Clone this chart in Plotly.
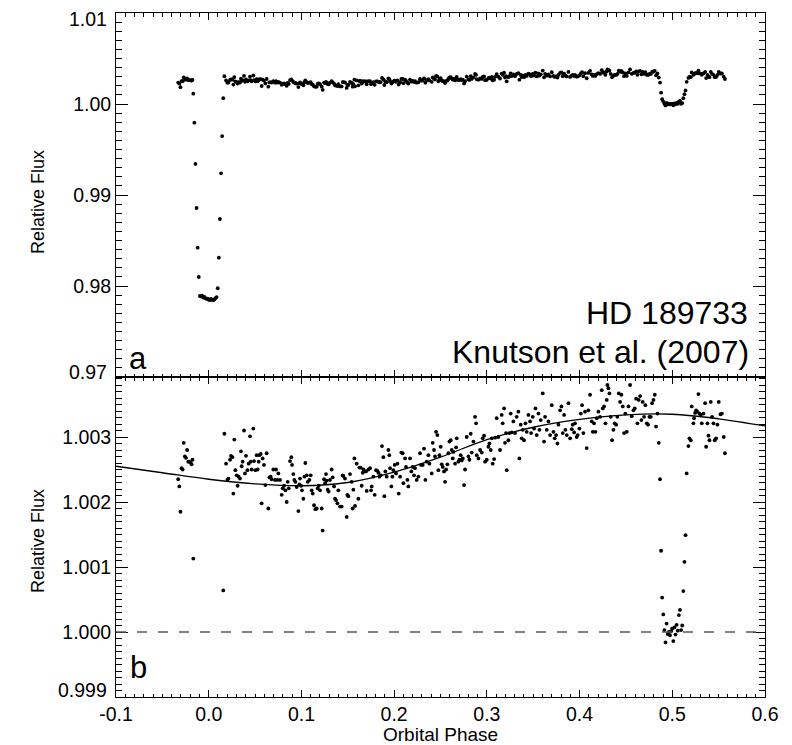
import plotly.graph_objects as go

# ---------------- data (orbital phase, relative flux) ----------------
pre_transit = [(-0.0329, 1.00235), (-0.0317, 1.00224), (-0.0305, 1.00185), (-0.0293, 1.00252),
               (-0.0281, 1.00250), (-0.0269, 1.00291), (-0.0257, 1.00270), (-0.0245, 1.00268),
               (-0.0233, 1.00280), (-0.0221, 1.00262), (-0.0209, 1.00262), (-0.0197, 1.00261),
               (-0.0185, 1.00258), (-0.0175, 1.00265)]

transit = [(-0.0166, 1.00113), (-0.0155, 0.99795), (-0.0143, 0.99341), (-0.0131, 0.98857),
           (-0.0119, 0.98421), (-0.0107, 0.98099), (-0.0095, 0.97890), (-0.0083, 0.97885),
           (-0.0071, 0.97895), (-0.0059, 0.97872), (-0.0047, 0.97880), (-0.0035, 0.97866),
           (-0.0023, 0.97858), (-0.0011, 0.97862), (0.0001, 0.97850), (0.0013, 0.97845),
           (0.0025, 0.97858), (0.0037, 0.97848), (0.0049, 0.97843), (0.0061, 0.97852),
           (0.0073, 0.97866), (0.0085, 0.97878), (0.0097, 0.97975), (0.0109, 0.98311),
           (0.0121, 0.98736), (0.0133, 0.99238), (0.0145, 0.99648), (0.0157, 1.00064)]

orbit_early = [
    (0.0169, 1.00305), (0.0187, 1.00259), (0.0201, 1.00234), (0.0212, 1.00236), (0.0230, 1.00265),
    (0.0240, 1.00271), (0.0255, 1.00269), (0.0266, 1.00213), (0.0276, 1.00296), (0.0287, 1.00249),
    (0.0302, 1.00241), (0.0312, 1.00225), (0.0323, 1.00239), (0.0337, 1.00236), (0.0348, 1.00278),
    (0.0355, 1.00255), (0.0366, 1.00262), (0.0381, 1.00310), (0.0391, 1.00244), (0.0402, 1.00271),
    (0.0417, 1.00249), (0.0431, 1.00259), (0.0445, 1.00301), (0.0453, 1.00262), (0.0463, 1.00250),
    (0.0481, 1.00313), (0.0489, 1.00263), (0.0503, 1.00249), (0.0517, 1.00272), (0.0528, 1.00250),
    (0.0539, 1.00262), (0.0546, 1.00272), (0.0561, 1.00274), (0.0571, 1.00198), (0.0582, 1.00267),
    (0.0596, 1.00257), (0.0611, 1.00226), (0.0625, 1.00275), (0.0643, 1.00190), (0.0654, 1.00238),
    (0.0668, 1.00239), (0.0679, 1.00235), (0.0697, 1.00250), (0.0715, 1.00234), (0.0726, 1.00250),
    (0.0740, 1.00234), (0.0751, 1.00244), (0.0769, 1.00234), (0.0787, 1.00211), (0.0798, 1.00221),
    (0.0812, 1.00225), (0.0827, 1.00218), (0.0841, 1.00200), (0.0852, 1.00231), (0.0863, 1.00221),
    (0.0877, 1.00263), (0.0891, 1.00269), (0.0899, 1.00257), (0.0913, 1.00243), (0.0924, 1.00234),
    (0.0935, 1.00231), (0.0949, 1.00223), (0.0967, 1.00186), (0.0978, 1.00227), (0.0985, 1.00236),
    (0.0996, 1.00225), (0.1006, 1.00218), (0.1021, 1.00205), (0.1032, 1.00239), (0.1042, 1.00260),
    (0.1057, 1.00241), (0.1068, 1.00231), (0.1086, 1.00234), (0.1100, 1.00241), (0.1111, 1.00218),
    (0.1122, 1.00213), (0.1136, 1.00195), (0.1150, 1.00189), (0.1165, 1.00190), (0.1175, 1.00221),
    (0.1186, 1.00225), (0.1201, 1.00218), (0.1219, 1.00190), (0.1229, 1.00156), (0.1244, 1.00235),
    (0.1255, 1.00229), (0.1265, 1.00243), (0.1273, 1.00233), (0.1283, 1.00219), (0.1294, 1.00216),
    (0.1308, 1.00234), (0.1326, 1.00250), (0.1337, 1.00238), (0.1352, 1.00224), (0.1362, 1.00205),
    (0.1373, 1.00203), (0.1388, 1.00198), (0.1398, 1.00218), (0.1416, 1.00193), (0.1434, 1.00193),
    (0.1445, 1.00241), (0.1452, 1.00240), (0.1470, 1.00236), (0.1488, 1.00177), (0.1495, 1.00211),
    (0.1506, 1.00209), (0.1524, 1.00243), (0.1542, 1.00231), (0.1553, 1.00190), (0.1560, 1.00219),
    (0.1571, 1.00267), (0.1578, 1.00194), (0.1596, 1.00259), (0.1614, 1.00205), (0.1625, 1.00253),
    (0.1639, 1.00253), (0.1650, 1.00225), (0.1661, 1.00245), (0.1668, 1.00250), (0.1686, 1.00247),
    (0.1697, 1.00247), (0.1704, 1.00217), (0.1722, 1.00250), (0.1740, 1.00252), (0.1751, 1.00218),
    (0.1758, 1.00224), (0.1776, 1.00239), (0.1790, 1.00211), (0.1805, 1.00249), (0.1819, 1.00248),
    (0.1830, 1.00245), (0.1841, 1.00239), (0.1855, 1.00241), (0.1869, 1.00286), (0.1884, 1.00269),
    (0.1894, 1.00209), (0.1905, 1.00247), (0.1920, 1.00239), (0.1938, 1.00280), (0.1948, 1.00272),
    (0.1956, 1.00252), (0.1970, 1.00224), (0.1981, 1.00239), (0.1992, 1.00249), (0.2006, 1.00257),
    (0.2020, 1.00244), (0.2035, 1.00259), (0.2049, 1.00213), (0.2064, 1.00239), (0.2078, 1.00276),
    (0.2092, 1.00275), (0.2100, 1.00229), (0.2118, 1.00267), (0.2128, 1.00254), (0.2143, 1.00234),
    (0.2153, 1.00224), (0.2171, 1.00267), (0.2186, 1.00247), (0.2200, 1.00254), (0.2215, 1.00241),
    (0.2225, 1.00252), (0.2243, 1.00234), (0.2261, 1.00239), (0.2279, 1.00275), (0.2290, 1.00257),
    (0.2308, 1.00257), (0.2322, 1.00282), (0.2337, 1.00234), (0.2351, 1.00262), (0.2369, 1.00272),
    (0.2380, 1.00259)]

orbit_late = [
    (0.2405, 1.00244), (0.2416, 1.00291), (0.2430, 1.00280), (0.2441, 1.00270), (0.2452, 1.00308),
    (0.2466, 1.00303), (0.2477, 1.00249), (0.2488, 1.00272), (0.2502, 1.00285), (0.2513, 1.00258),
    (0.2524, 1.00254), (0.2538, 1.00247), (0.2549, 1.00231), (0.2560, 1.00250), (0.2574, 1.00258),
    (0.2585, 1.00275), (0.2596, 1.00293), (0.2610, 1.00295), (0.2621, 1.00280), (0.2632, 1.00267),
    (0.2639, 1.00277), (0.2657, 1.00259), (0.2668, 1.00284), (0.2675, 1.00298), (0.2693, 1.00262),
    (0.2704, 1.00265), (0.2718, 1.00272), (0.2729, 1.00264), (0.2740, 1.00267), (0.2754, 1.00226),
    (0.2765, 1.00250), (0.2783, 1.00300), (0.2801, 1.00270), (0.2812, 1.00265), (0.2826, 1.00305),
    (0.2837, 1.00276), (0.2855, 1.00293), (0.2873, 1.00331), (0.2884, 1.00321), (0.2891, 1.00272),
    (0.2909, 1.00267), (0.2927, 1.00280), (0.2945, 1.00276), (0.2955, 1.00298), (0.2970, 1.00302),
    (0.2981, 1.00262), (0.2999, 1.00265), (0.3017, 1.00285), (0.3027, 1.00290), (0.3042, 1.00280),
    (0.3053, 1.00298), (0.3063, 1.00259), (0.3078, 1.00266), (0.3089, 1.00299), (0.3106, 1.00329),
    (0.3124, 1.00300), (0.3142, 1.00280), (0.3160, 1.00334), (0.3171, 1.00321), (0.3186, 1.00344),
    (0.3196, 1.00291), (0.3207, 1.00306), (0.3214, 1.00249), (0.3232, 1.00295), (0.3243, 1.00306),
    (0.3257, 1.00336), (0.3268, 1.00307), (0.3286, 1.00324), (0.3304, 1.00306), (0.3322, 1.00331),
    (0.3340, 1.00339), (0.3351, 1.00267), (0.3365, 1.00319), (0.3376, 1.00298), (0.3387, 1.00311),
    (0.3401, 1.00295), (0.3416, 1.00321), (0.3430, 1.00308), (0.3448, 1.00334), (0.3466, 1.00324),
    (0.3477, 1.00306), (0.3495, 1.00331), (0.3509, 1.00313), (0.3524, 1.00344), (0.3538, 1.00303),
    (0.3556, 1.00336), (0.3567, 1.00311), (0.3581, 1.00326), (0.3603, 1.00367), (0.3617, 1.00293),
    (0.3628, 1.00331), (0.3646, 1.00311), (0.3664, 1.00324), (0.3682, 1.00303), (0.3700, 1.00349),
    (0.3718, 1.00308), (0.3732, 1.00298), (0.3747, 1.00303), (0.3761, 1.00290), (0.3772, 1.00319),
    (0.3790, 1.00341), (0.3804, 1.00347), (0.3818, 1.00306), (0.3833, 1.00334), (0.3847, 1.00311),
    (0.3862, 1.00303), (0.3880, 1.00352), (0.3898, 1.00298), (0.3916, 1.00312), (0.3926, 1.00319),
    (0.3941, 1.00307), (0.3951, 1.00321), (0.3969, 1.00300), (0.3980, 1.00303), (0.3998, 1.00313),
    (0.4013, 1.00336), (0.4027, 1.00349), (0.4041, 1.00306), (0.4059, 1.00339), (0.4077, 1.00283),
    (0.4095, 1.00341), (0.4113, 1.00365), (0.4131, 1.00324), (0.4142, 1.00308), (0.4156, 1.00321),
    (0.4171, 1.00308), (0.4185, 1.00329), (0.4203, 1.00339), (0.4221, 1.00331), (0.4239, 1.00372),
    (0.4250, 1.00344), (0.4264, 1.00347), (0.4279, 1.00321), (0.4293, 1.00357), (0.4300, 1.00380),
    (0.4311, 1.00375), (0.4322, 1.00367), (0.4336, 1.00331), (0.4351, 1.00295), (0.4365, 1.00311),
    (0.4379, 1.00321), (0.4394, 1.00319), (0.4408, 1.00331), (0.4423, 1.00367), (0.4437, 1.00354),
    (0.4451, 1.00365), (0.4466, 1.00347), (0.4480, 1.00306), (0.4494, 1.00336), (0.4509, 1.00308),
    (0.4527, 1.00347), (0.4545, 1.00380), (0.4563, 1.00332), (0.4581, 1.00341), (0.4595, 1.00344),
    (0.4610, 1.00359), (0.4624, 1.00321), (0.4638, 1.00357), (0.4653, 1.00363), (0.4667, 1.00326),
    (0.4681, 1.00354), (0.4696, 1.00331), (0.4710, 1.00349), (0.4725, 1.00321), (0.4739, 1.00319),
    (0.4753, 1.00331), (0.4768, 1.00331), (0.4782, 1.00352), (0.4797, 1.00357), (0.4811, 1.00365),
    (0.4825, 1.00316), (0.4840, 1.00336), (0.4854, 1.00291)]

eclipse = [(0.4868, 1.00235), (0.4879, 1.00125), (0.4891, 1.00053), (0.4903, 1.00027),
           (0.4915, 1.00003), (0.4927, 0.99984), (0.4939, 1.00013), (0.4951, 0.99997),
           (0.4963, 1.00000), (0.4975, 0.99995), (0.4987, 1.00001), (0.4999, 1.00005),
           (0.5011, 0.99986), (0.5023, 1.00007), (0.5035, 0.99996), (0.5047, 1.00011),
           (0.5059, 1.00002), (0.5071, 1.00026), (0.5083, 1.00034), (0.5095, 1.00003),
           (0.5107, 1.00010), (0.5119, 1.00063), (0.5131, 1.00108), (0.5143, 1.00149),
           (0.5155, 1.00244)]

post_eclipse = [(0.5174, 1.00286), (0.5185, 1.00298), (0.5199, 1.00295), (0.5210, 1.00347),
                (0.5228, 1.00321), (0.5235, 1.00329), (0.5246, 1.00337), (0.5257, 1.00341),
                (0.5271, 1.00339), (0.5282, 1.00366), (0.5293, 1.00336), (0.5307, 1.00334),
                (0.5318, 1.00321), (0.5336, 1.00336), (0.5354, 1.00352), (0.5365, 1.00285),
                (0.5379, 1.00321), (0.5390, 1.00302), (0.5401, 1.00295), (0.5415, 1.00354),
                (0.5429, 1.00331), (0.5444, 1.00321), (0.5458, 1.00295), (0.5473, 1.00298),
                (0.5487, 1.00319), (0.5501, 1.00354), (0.5520, 1.00335), (0.5535, 1.00336),
                (0.5555, 1.00300), (0.5568, 1.00275)]

# phase-curve model
curve_phase = [-0.10, -0.05, 0.00, 0.05, 0.10, 0.15, 0.20, 0.25, 0.30, 0.35, 0.40, 0.45, 0.50, 0.55, 0.60]
curve_flux = [1.00255, 1.00245, 1.00235, 1.00228, 1.00225, 1.00230, 1.00246, 1.00269,
              1.00296, 1.00315, 1.00327, 1.00334, 1.00335, 1.00328, 1.00317]

x_tickvals = [-0.1, 0.0, 0.1, 0.2, 0.3, 0.4, 0.5, 0.6]
x_ticktext = ["-0.1", "0.0", "0.1", "0.2", "0.3", "0.4", "0.5", "0.6"]
ytop_tickvals = [0.97, 0.98, 0.99, 1.00, 1.01]
ytop_ticktext = ["0.97", "0.98", "0.99", "1.00", "1.01"]
ybot_tickvals = [0.999, 1.000, 1.001, 1.002, 1.003]
ybot_ticktext = ["0.999", "1.000", "1.001", "1.002", "1.003"]

points = pre_transit + transit + orbit_early + orbit_late + eclipse + post_eclipse
phase = [p for p, f in points]
flux = [f for p, f in points]

# ---------------- figure ----------------
FONT = "Liberation Sans, Arial, Helvetica, sans-serif"
TICKSIZE = 19.5
W, H = 792, 745
ML, MR, MT, MB = 116, 27, 13, 48
split = 320 / 684.0


def py(px):
    return (H - MB - px) / (H - MT - MB)


def pxx(px):
    return (px - ML) / (W - ML - MR)


fig = go.Figure()
marker = dict(color="black", size=3.8, line=dict(width=0))
fig.add_trace(go.Scatter(x=phase, y=flux, mode="markers", marker=marker,
                         xaxis="x2", yaxis="y2", showlegend=False, hoverinfo="skip"))
fig.add_trace(go.Scatter(x=phase, y=flux, mode="markers", marker=marker,
                         xaxis="x", yaxis="y", showlegend=False, hoverinfo="skip"))
fig.add_trace(go.Scatter(x=curve_phase, y=curve_flux, mode="lines",
                         line=dict(color="black", width=1.3, shape="spline", smoothing=1.0),
                         xaxis="x", yaxis="y", showlegend=False, hoverinfo="skip"))


def xaxis_common(show_labels):
    return dict(range=[-0.1, 0.6], tickmode="array", tickvals=x_tickvals, ticktext=x_ticktext,
                showticklabels=show_labels, ticks="inside", ticklen=7, tickwidth=1,
                tickcolor="black", showline=True, linecolor="black", linewidth=1,
                mirror="allticks", showgrid=False, zeroline=False, automargin=False,
                tickfont=dict(family=FONT, size=TICKSIZE, color="black"),
                minor=dict(tickmode="linear", tick0=0, dtick=0.01, ticks="inside", ticklen=3.5,
                           tickwidth=1, tickcolor="black", showgrid=False))


def yaxis_common(rng, vals, text, minor_dtick, domain):
    return dict(range=rng, domain=domain, tickmode="array", tickvals=vals, ticktext=text,
                ticks="inside", ticklen=12, tickwidth=1, tickcolor="black",
                showline=True, linecolor="black", linewidth=1, mirror="allticks",
                showgrid=False, zeroline=False, automargin=False,
                tickfont=dict(family=FONT, size=TICKSIZE, color="black"),
                minor=dict(tickmode="linear", tick0=1.0, dtick=minor_dtick, ticks="inside",
                           ticklen=6, tickwidth=1, tickcolor="black", showgrid=False))


# edge labels are drawn nudged inward (as in the original), the others on their ticks
edge_top = {0: 372, 4: 19}      # index in ytop_ticktext -> label centre (px)
edge_bot = {0: 690}             # index in ybot_ticktext -> label centre (px)
ytop_text_axis = ["" if i in edge_top else t for i, t in enumerate(ytop_ticktext)]
ybot_text_axis = ["" if i in edge_bot else t for i, t in enumerate(ybot_ticktext)]

fig.update_layout(
    width=W, height=H, margin=dict(l=ML, r=MR, t=MT, b=MB, pad=0, autoexpand=False),
    paper_bgcolor="white", plot_bgcolor="white",
    font=dict(family=FONT, color="black"),
    xaxis=dict(**xaxis_common(True), anchor="y"),
    xaxis2=dict(**xaxis_common(False), anchor="y2", matches="x"),
    yaxis=dict(**yaxis_common([0.999, 1.003923], ybot_tickvals, ybot_text_axis, 0.0001, [0, split]),
               anchor="x"),
    yaxis2=dict(**yaxis_common([0.97, 1.01], ytop_tickvals, ytop_text_axis, 0.001, [split, 1]),
                anchor="x2"),
    showlegend=False,
)

# dashed reference line at flux = 1 in panel b
fig.add_shape(type="line", xref="x domain", yref="y", x0=0, x1=1, y0=1.0, y1=1.0,
              line=dict(color="#5a5a5a", width=1.5, dash="10px,11px"))

for i, yc in edge_top.items():
    fig.add_annotation(text=ytop_ticktext[i], x=pxx(109), y=py(yc), xref="paper", yref="paper",
                       xanchor="right", yanchor="middle", showarrow=False,
                       font=dict(family=FONT, size=TICKSIZE, color="black"))
for i, yc in edge_bot.items():
    fig.add_annotation(text=ybot_ticktext[i], x=pxx(109), y=py(yc), xref="paper", yref="paper",
                       xanchor="right", yanchor="middle", showarrow=False,
                       font=dict(family=FONT, size=TICKSIZE, color="black"))

ann = [
    dict(text="HD 189733", x=pxx(750), y=py(313), xanchor="right", size=32),
    dict(text="Knutson et al. (2007)", x=pxx(751), y=py(352), xanchor="right", size=32),
    dict(text="a", x=pxx(127), y=py(359), xanchor="left", size=31),
    dict(text="b", x=pxx(128), y=py(667), xanchor="left", size=31),
    dict(text="Orbital Phase", x=0.5, y=py(734), xanchor="center", size=19),
]
for a in ann:
    fig.add_annotation(text=a["text"], x=a["x"], y=a["y"], xref="paper", yref="paper",
                       xanchor=a["xanchor"], yanchor="middle", showarrow=False,
                       font=dict(family=FONT, size=a["size"], color="black"))
for yc in (202, 541):
    fig.add_annotation(text="Relative Flux", x=pxx(38), y=py(yc), xref="paper", yref="paper",
                       xanchor="center", yanchor="middle", textangle=-90, showarrow=False,
                       font=dict(family=FONT, size=18, color="black"))

fig.write_html("out.html")
